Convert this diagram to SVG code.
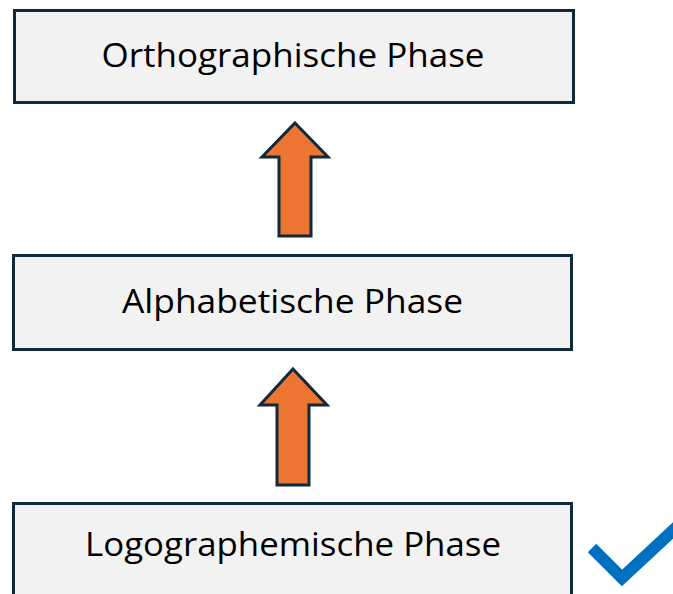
<svg xmlns="http://www.w3.org/2000/svg" width="673" height="594" viewBox="0 0 673 594">
<style>
.box{fill:#f2f2f2;stroke:#0e2a3b;stroke-width:3}
.lbl{font-family:"Open Sans","Noto Sans",sans-serif;font-size:33px;fill:#000;text-anchor:middle}
.arr{fill:#ed7532;stroke:#0e2a3b;stroke-width:3;stroke-linejoin:miter}
</style>
<rect width="673" height="594" fill="#fff"/>
<g id="node-ortho">
<rect class="box" x="14.5" y="10.5" width="559" height="92"/>
<text class="lbl" x="293" y="67" textLength="383" lengthAdjust="spacingAndGlyphs">Orthographische Phase</text>
</g>
<g id="node-alpha">
<rect class="box" x="13.5" y="255.5" width="558" height="94"/>
<text class="lbl" x="292.5" y="313" textLength="341" lengthAdjust="spacingAndGlyphs">Alphabetische Phase</text>
</g>
<g id="node-logo">
<rect class="box" x="13.5" y="503.5" width="558" height="95"/>
<text class="lbl" x="293" y="556" textLength="416" lengthAdjust="spacingAndGlyphs">Logographemische Phase</text>
</g>
<g id="connectors">
<polygon class="arr" points="295,123 328,157 311,157 311,236 279,236 279,157 262,157"/>
<polygon class="arr" points="293,369 327,405 309,405 309,485 277,485 277,405 260,405"/>
</g>
<g id="check">
<polyline points="592,548 622,578 680,524" fill="none" stroke="#0070c0" stroke-width="12"/>
</g>
</svg>
